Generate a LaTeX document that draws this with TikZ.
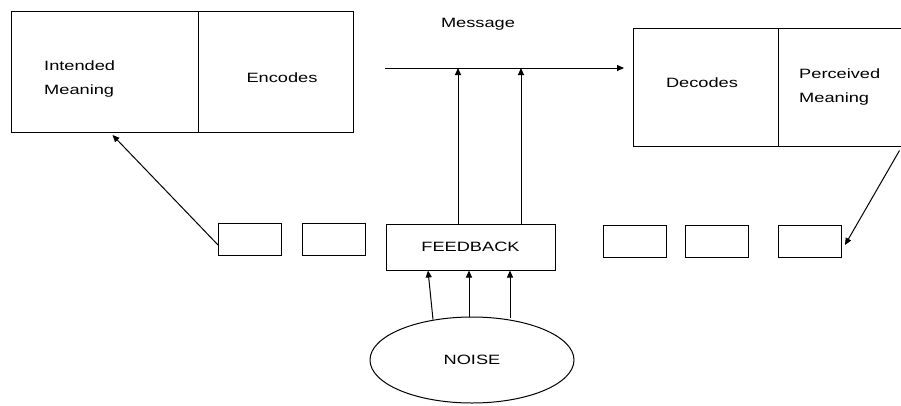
\documentclass[tikz,border=0pt]{standalone}
\usepackage{fontspec}
\setmainfont{Liberation Sans}[FakeStretch=1.35]
\usetikzlibrary{arrows.meta,shapes.geometric}
\begin{document}
\begin{tikzpicture}[x=1pt,y=-1pt,
  box/.style={draw,line width=1pt,minimum width=#1,inner sep=0pt},
  small/.style={draw,line width=0.9pt,minimum width=63pt,minimum height=32pt,inner sep=0pt},
  lbl/.style={font=\fontsize{13.5}{24}\selectfont,inner sep=0pt},
  arr/.style={line width=1pt,-{Triangle[length=7pt,width=6pt]}}]
\clip (0,0) rectangle (901,405);
\fill[white] (0,0) rectangle (901,405);
% top-left box
\node[box=187pt,minimum height=121pt] (im) at (104.5,72) {};
\node[box=155pt,minimum height=121pt] (en) at (275.5,72) {};
\node[lbl,align=left,anchor=west] (imt) at (44,79) {Intended\\Meaning};
\node[lbl] (ent) at (282,78) {Encodes};
% top-right box
\node[box=145pt,minimum height=118pt] (de) at (705.5,87) {};
\node[box=127pt,minimum height=118pt] (pm) at (841.5,87) {};
\node[lbl] (det) at (702,83) {Decodes};
\node[lbl,align=left,anchor=west] (pmt) at (799,87) {Perceived\\Meaning};
% message
\node[lbl] (msg) at (478,24) {Message};
\coordinate (m1) at (385,68);
\coordinate (m2) at (624,68);
\draw[arr] (m1) -- (m2);
% small boxes
\node[small] (b1) at (250,239) {};
\node[small] (b2) at (333.5,239) {};
\node[small] (b4) at (634.5,241) {};
\node[small] (b5) at (717,241) {};
\node[small] (b6) at (810,241) {};
% feedback
\node[draw,line width=1pt,minimum width=169pt,minimum height=46pt,inner sep=0pt,font=\fontsize{13.5}{15}\selectfont] (fb) at (470.5,247) {FEEDBACK};
\draw[arr] ([xshift=-12.5pt]fb.north) -- ([xshift=-12.5pt]fb.north |- m1);
\draw[arr] ([xshift=50.5pt]fb.north) -- ([xshift=50.5pt]fb.north |- m1);
% noise
\node[draw,ellipse,line width=1pt,minimum width=204pt,minimum height=86pt,inner sep=0pt,font=\fontsize{13.5}{15}\selectfont] (noise) at (472,360) {NOISE};
\draw[arr] ([xshift=-39pt,yshift=-3pt]noise.north) -- ([xshift=-42.5pt]fb.south);
\draw[arr] ([xshift=-3pt]noise.north) -- ([xshift=-1.5pt]fb.south);
\draw[arr] ([xshift=38pt,yshift=-1pt]noise.north) -- ([xshift=39.5pt]fb.south);
% feedback loops to meanings
\draw[arr] ([yshift=-6pt]b1.west) -- ([xshift=102pt,yshift=-2pt]im.south west);
\draw[arr] ([xshift=-6pt,yshift=-4pt]pm.south east) -- ([xshift=3pt,yshift=-4pt]b6.east);
\end{tikzpicture}
\end{document}
